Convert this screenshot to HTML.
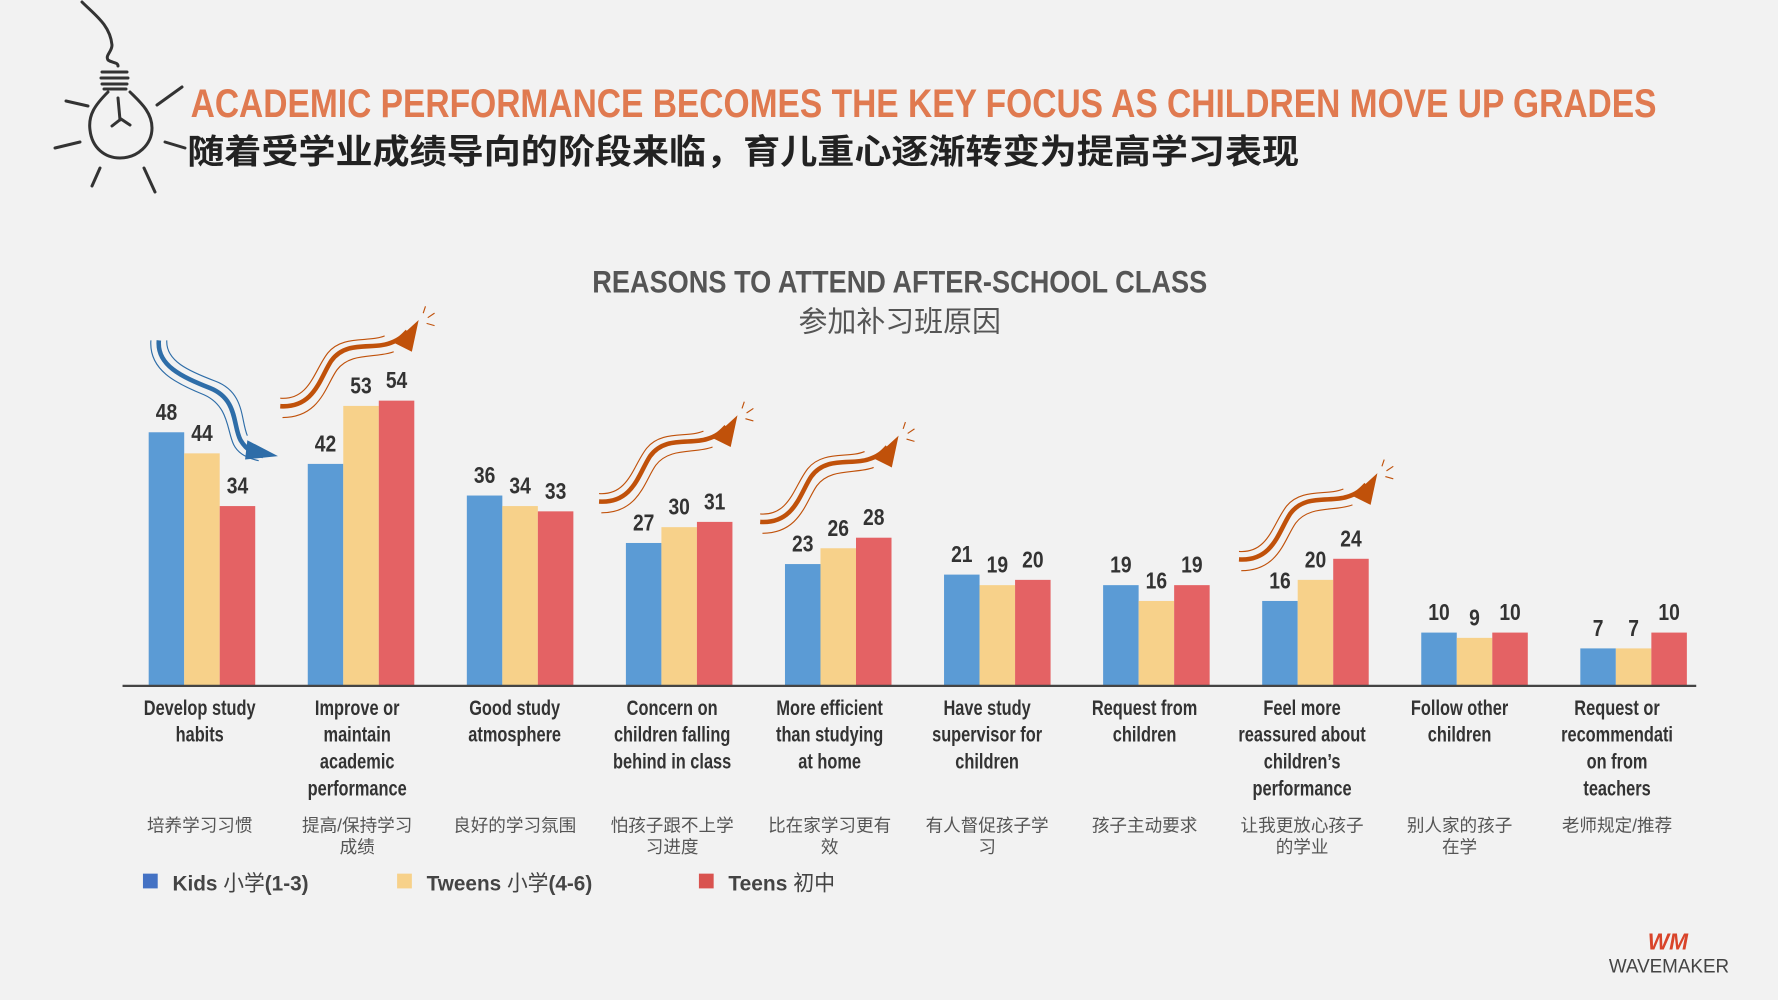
<!DOCTYPE html>
<html><head><meta charset="utf-8">
<style>
html,body{margin:0;padding:0;background:#f2f2f2;}
svg{display:block;}
text{font-family:"Liberation Sans","Noto Sans CJK SC",sans-serif;}
</style></head>
<body>
<svg id="chart" width="1778" height="1000" viewBox="0 0 1778 1000" xmlns="http://www.w3.org/2000/svg">
<rect width="1778" height="1000" fill="#f2f2f2"/>
<g fill="none" stroke="#333" stroke-width="3" stroke-linecap="round">
  <path d="M82,2 C95,15 110,25 112,45 C112,52 105,55 108,60 C112,63 118,62 118,66"/>
  <path d="M102,72 L127,72 M101,78 L128,78 M102,84 L127,84 M104,89 L126,89"/>
  <path d="M108,92 C95,105 88,115 90,130 C92,148 105,158 120,158 C137,158 152,145 152,128 C152,112 140,102 130,92"/>
  <path d="M118,98 L120,120 M112,126 L121,119 L130,125"/>
  <path d="M66,101 L88,106 M182,87 L157,105 M55,148 L80,142 M165,142 L185,148 M100,168 L92,186 M144,168 L155,192"/>
</g>
<g transform="scale(1.1346)">
  <text x="168" y="103" font-size="35" font-weight="bold" fill="#E07A50" textLength="1292" lengthAdjust="spacingAndGlyphs">ACADEMIC PERFORMANCE BECOMES THE KEY FOCUS AS CHILDREN MOVE UP GRADES</text>
  <text x="165" y="144" font-size="30" font-weight="bold" fill="#222" textLength="980" lengthAdjust="spacingAndGlyphs">随着受学业成绩导向的阶段来临，育儿重心逐渐转变为提高学习表现</text>
  <text x="793" y="258" font-size="28" font-weight="bold" fill="#555" text-anchor="middle" textLength="542" lengthAdjust="spacingAndGlyphs">REASONS TO ATTEND AFTER-SCHOOL CLASS</text>
  <text x="793" y="292" font-size="25.5" fill="#555" text-anchor="middle">参加补习班原因</text>
  <g id="plot"></g>
  <g font-size="19" font-weight="bold" fill="#444">
    <rect x="126" y="770" width="13" height="13" fill="#4472C4"/>
    <text x="152" y="785" textLength="120" lengthAdjust="spacingAndGlyphs">Kids <tspan font-weight="normal">小学</tspan>(1-3)</text>
    <rect x="350" y="770" width="13" height="13" fill="#F7D18A"/>
    <text x="376" y="785" textLength="146" lengthAdjust="spacingAndGlyphs">Tweens <tspan font-weight="normal">小学</tspan>(4-6)</text>
    <rect x="616" y="770" width="13" height="13" fill="#D9534F"/>
    <text x="642" y="785" textLength="94" lengthAdjust="spacingAndGlyphs">Teens <tspan font-weight="normal">初中</tspan></text>
  </g>
  <g>
    <text x="1470" y="837" font-size="20" font-weight="bold" fill="#D9442A" text-anchor="middle" font-style="italic">WM</text>
    <text x="1471" y="857" font-size="17" fill="#444" text-anchor="middle" textLength="106" lengthAdjust="spacingAndGlyphs">WAVEMAKER</text>
  </g>
</g>
<script>
const categories=["Develop study|habits","Improve or|maintain|academic|performance","Good study|atmosphere","Concern on|children falling|behind in class","More efficient|than studying|at home","Have study|supervisor for|children","Request from|children","Feel more|reassured about|children’s|performance","Follow other|children","Request or|recommendati|on from|teachers"];
const categoriesCn=["培养学习习惯","提高/保持学习|成绩","良好的学习氛围","怕孩子跟不上学|习进度","比在家学习更有|效","有人督促孩子学|习","孩子主动要求","让我更放心孩子|的学业","别人家的孩子|在学","老师规定/推荐"];
const kids=[48,42,36,27,23,21,19,16,10,7];
const tweens=[44,53,34,30,26,19,16,20,9,7];
const teens=[34,54,33,31,28,20,19,24,10,10];
const seriesColors=["#5B9BD5","#F7D18A","#E46264"];

const NS="http://www.w3.org/2000/svg";
const plot=document.getElementById('plot');
const baseY=604, unit=4.646, x0=178, step=140.2, bw=31.3;
const yPos=v=>baseY-v*unit;
const xCenter=i=>x0+i*step;
const labelX=i=>176+i*138.8;
function mk(tag,attrs,parent){const e=document.createElementNS(NS,tag);for(const k in attrs)e.setAttribute(k,attrs[k]);(parent||plot).appendChild(e);return e;}

const series=[kids,tweens,teens];
const snames=["kids","tweens","teens"];
series.forEach((vals,s)=>{
  vals.forEach((v,i)=>{
    const x=xCenter(i)-1.5*bw+s*bw;
    const r=mk('rect',{x:x,y:yPos(v),width:bw,height:v*unit,fill:seriesColors[s]});
    
    
    const g=mk('g',{transform:`translate(${x+bw/2},${yPos(v)-11}) scale(0.85,1)`});
    const t=mk('text',{x:0,y:0,'text-anchor':'middle','font-size':20,'font-weight':'bold',fill:'#333'},g);
    t.textContent=v;
    
    
  });
});
const ax=mk('line',{x1:108,x2:1495,y1:baseY+0.5,y2:baseY+0.5,stroke:'#444','stroke-width':2});



categories.forEach((c,i)=>{
  const g=mk('g',{transform:`translate(${labelX(i)},0) scale(0.78,1)`});
  
  
  c.split('|').forEach((line,j)=>{
    const t=mk('text',{x:0,y:630+j*23.7,'text-anchor':'middle','font-size':18.5,'font-weight':'bold',fill:'#333'},g);
    t.textContent=line;
  });
  categoriesCn[i].split('|').forEach((line,j)=>{
    const t=mk('text',{x:labelX(i),y:733+j*19,'text-anchor':'middle','font-size':15.5,fill:'#555'});
    t.textContent=line;
    
    
  });
});

function upArrow(tx,ty){
  const g=mk('g',{transform:`translate(${tx},${ty})`,fill:'none'});
  
  
  mk('path',{d:'M0,0 C30,2 35,-25 45,-40 C58,-58 80,-50 95,-55 C105,-58 108,-62 112,-66',stroke:'#C0510A','stroke-width':4},g);
  mk('path',{d:'M0,-7 C26,-5 30,-32 42,-47 C55,-63 78,-56 92,-62',stroke:'#C0510A','stroke-width':1},g);
  mk('path',{d:'M2,10 C35,10 40,-18 50,-32 C62,-48 85,-42 100,-48',stroke:'#C0510A','stroke-width':1},g);
  mk('path',{d:'M100,-56 L122,-76 L116,-48 Z',fill:'#C0510A'},g);
  mk('path',{d:'M126,-82 L128,-88 M130,-78 L136,-82 M129,-73 L136,-71',stroke:'#C0510A','stroke-width':1},g);
}
upArrow(247,358);
upArrow(528,442);
upArrow(670,460);
upArrow(1092,493);
(function(){
  const g=mk('g',{transform:'translate(140,300)',fill:'none'});
  
  
  mk('path',{d:'M0,0 C-2,22 20,32 45,42 C70,52 65,75 72,88 C78,98 85,100 92,102',stroke:'#2E6DA8','stroke-width':4},g);
  mk('path',{d:'M-7,0 C-9,26 15,38 40,48 C62,58 60,80 66,92 C70,100 78,104 88,106',stroke:'#2E6DA8','stroke-width':1},g);
  mk('path',{d:'M7,0 C6,18 26,27 50,36 C76,46 72,70 78,84',stroke:'#2E6DA8','stroke-width':1},g);
  mk('path',{d:'M78,88 L105,102 L76,105 Z',fill:'#2E6DA8'},g);
})();
</script>
</svg>
</body></html>
